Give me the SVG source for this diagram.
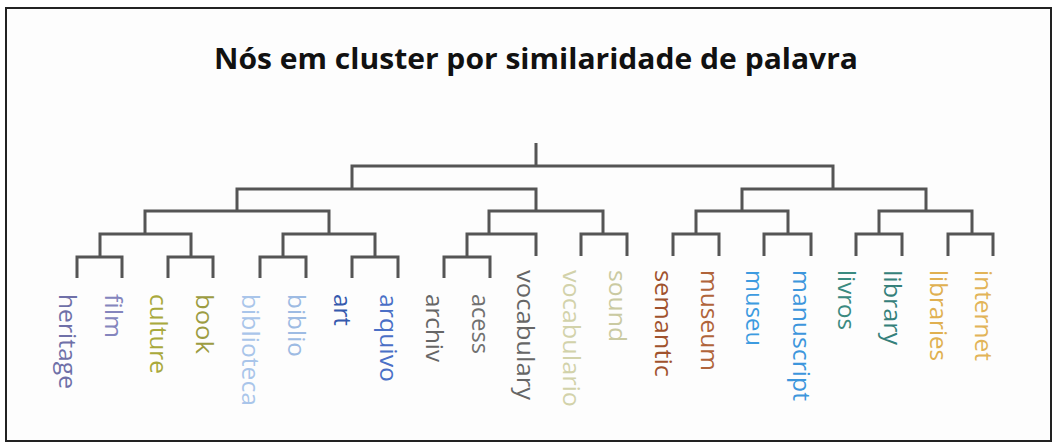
<svg xmlns="http://www.w3.org/2000/svg" width="1057" height="446" viewBox="0 0 1057 446">
<style>
.title{font-family:"Open Sans","Noto Sans","Liberation Sans",sans-serif;font-weight:bold;font-size:29px;fill:#111}
.lbl{font-family:"Open Sans","Noto Sans","Liberation Sans",sans-serif;font-size:23px}
.ln{fill:none;stroke:#555;stroke-width:3;stroke-linejoin:miter;stroke-linecap:butt}
</style>
<rect x="0" y="0" width="1057" height="446" fill="#ffffff"/>
<rect x="6" y="8" width="1045" height="433" fill="#fdfdfd" stroke="#222" stroke-width="2"/>
<text id="title" class="title" x="214" y="69" textLength="644" lengthAdjust="spacingAndGlyphs">Nós em cluster por similaridade de palavra</text>
<g id="connectors" class="ln">
<path d="M536,143V166M352,189V166H833V189"/>
<path d="M237,211V189H536V211"/>
<path d="M145,234V211H329V234"/>
<path d="M100,257V234H191V257"/>
<path d="M77,278V257H122V278"/>
<path d="M168,278V257H213V278"/>
<path d="M283,257V234H375V257"/>
<path d="M260,278V257H306V278"/>
<path d="M352,278V257H398V278"/>
<path d="M489,234V211H603V234"/>
<path d="M467,257V234H536V256"/>
<path d="M444,278V257H490V278"/>
<path d="M581,256V234H627V256"/>
<path d="M742,211V189H926V211"/>
<path d="M696,234V211H788V234"/>
<path d="M673,256V234H719V256"/>
<path d="M764,256V234H811V256"/>
<path d="M879,234V211H972V234"/>
<path d="M856,256V234H902V256"/>
<path d="M948,256V234H993V256"/>
</g>
<g id="n-heritage"><text class="lbl" fill="#6f70a8" transform="translate(59,294) rotate(90)" textLength="95" lengthAdjust="spacingAndGlyphs">heritage</text></g>
<g id="n-film"><text class="lbl" fill="#8485bd" transform="translate(105,294) rotate(90)" textLength="44" lengthAdjust="spacingAndGlyphs">film</text></g>
<g id="n-culture"><text class="lbl" fill="#a9a93c" transform="translate(150,294) rotate(90)" textLength="80" lengthAdjust="spacingAndGlyphs">culture</text></g>
<g id="n-book"><text class="lbl" fill="#9c9c42" transform="translate(196,294) rotate(90)" textLength="60" lengthAdjust="spacingAndGlyphs">book</text></g>
<g id="n-biblioteca"><text class="lbl" fill="#a9c5ea" transform="translate(242,294) rotate(90)" textLength="112" lengthAdjust="spacingAndGlyphs">biblioteca</text></g>
<g id="n-biblio"><text class="lbl" fill="#9dbbe3" transform="translate(288,294) rotate(90)" textLength="63" lengthAdjust="spacingAndGlyphs">biblio</text></g>
<g id="n-art"><text class="lbl" fill="#3559ad" transform="translate(334,294) rotate(90)" textLength="32" lengthAdjust="spacingAndGlyphs">art</text></g>
<g id="n-arquivo"><text class="lbl" fill="#4a6fc6" transform="translate(380,294) rotate(90)" textLength="88" lengthAdjust="spacingAndGlyphs">arquivo</text></g>
<g id="n-archiv"><text class="lbl" fill="#666666" transform="translate(426,294) rotate(90)" textLength="68" lengthAdjust="spacingAndGlyphs">archiv</text></g>
<g id="n-acess"><text class="lbl" fill="#707070" transform="translate(472,294) rotate(90)" textLength="60" lengthAdjust="spacingAndGlyphs">acess</text></g>
<g id="n-vocabulary"><text class="lbl" fill="#666666" transform="translate(517,270) rotate(90)" textLength="130" lengthAdjust="spacingAndGlyphs">vocabulary</text></g>
<g id="n-vocabulario"><text class="lbl" fill="#d2d2aa" transform="translate(563,270) rotate(90)" textLength="137" lengthAdjust="spacingAndGlyphs">vocabulario</text></g>
<g id="n-sound"><text class="lbl" fill="#cacaa2" transform="translate(609,270) rotate(90)" textLength="72" lengthAdjust="spacingAndGlyphs">sound</text></g>
<g id="n-semantic"><text class="lbl" fill="#a0522d" transform="translate(655,270) rotate(90)" textLength="107" lengthAdjust="spacingAndGlyphs">semantic</text></g>
<g id="n-museum"><text class="lbl" fill="#b0643a" transform="translate(701,270) rotate(90)" textLength="101" lengthAdjust="spacingAndGlyphs">museum</text></g>
<g id="n-museu"><text class="lbl" fill="#3d9be0" transform="translate(746,270) rotate(90)" textLength="76" lengthAdjust="spacingAndGlyphs">museu</text></g>
<g id="n-manuscript"><text class="lbl" fill="#3d96dc" transform="translate(793,270) rotate(90)" textLength="131" lengthAdjust="spacingAndGlyphs">manuscript</text></g>
<g id="n-livros"><text class="lbl" fill="#3a8a80" transform="translate(838,270) rotate(90)" textLength="60" lengthAdjust="spacingAndGlyphs">livros</text></g>
<g id="n-library"><text class="lbl" fill="#35807a" transform="translate(884,270) rotate(90)" textLength="75" lengthAdjust="spacingAndGlyphs">library</text></g>
<g id="n-libraries"><text class="lbl" fill="#e0b050" transform="translate(930,270) rotate(90)" textLength="91" lengthAdjust="spacingAndGlyphs">libraries</text></g>
<g id="n-internet"><text class="lbl" fill="#e2b458" transform="translate(975,270) rotate(90)" textLength="91" lengthAdjust="spacingAndGlyphs">internet</text></g>
</svg>
